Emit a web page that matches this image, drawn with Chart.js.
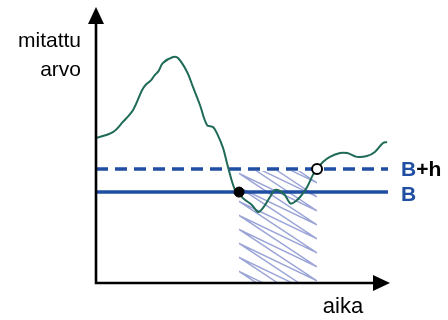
<!DOCTYPE html>
<html>
<head>
<meta charset="utf-8">
<script src="https://cdn.jsdelivr.net/npm/chart.js@4/dist/chart.umd.min.js"></script>
<style>
  html, body { margin: 0; padding: 0; background: #ffffff; }
  canvas { display: block; }
</style>
</head>
<body>
<canvas id="c" width="448" height="320"></canvas>
<script>
// Measured signal over time (arbitrary units)
const timePoints = [0, 5.8, 9.2, 12.7, 15.8, 17.2, 18.8, 20.0, 21.4, 22.9, 26.4, 28.1, 31.2, 33.2, 35.6, 38.0, 40.1, 41.4, 43.5, 45.2, 47.6, 49.0, 50.3, 53.4, 55.5, 57.2, 59.6, 61.3, 63.0, 64.7, 66.4, 67.5, 69.9, 72.3, 74.3, 75.7, 77.7, 80.1, 83.6, 86.0, 89.4, 92.8, 95.5, 98.3, 99.7];
const measuredValues = [53.1, 55.3, 59.0, 63.4, 70.7, 72.8, 74.2, 76.0, 77.6, 80.6, 82.8, 82.4, 77.3, 71.8, 65.2, 57.9, 57.1, 54.9, 49.5, 42.5, 34.1, 33.3, 31.1, 28.6, 26.0, 27.5, 31.5, 34.1, 33.7, 32.2, 29.3, 29.3, 31.5, 35.2, 39.6, 41.8, 44.3, 46.2, 47.6, 47.6, 46.2, 46.5, 48.0, 51.3, 51.6];

// Reference level B and tolerance h
const baselineB = 33.3;
const toleranceH = 8.5;
// Time where the signal drops below B, and where it rises above B+h
const dropTime = 49.0;
const recoverTime = 75.7;

const axisRange = [0, 100];
const labels = { y: ['mitattu', 'arvo'], x: 'aika', upper: ['B', '+h'], lower: 'B' };

const GREEN = '#1f6b58';
const BLUE = '#1f4ea3';
const HATCH = 'rgba(120,134,200,0.75)';
const FONT = '"Liberation Sans", Arial, sans-serif';

const curve = timePoints.map((t, i) => ({ x: t, y: measuredValues[i] }));
const upperLevel = baselineB + toleranceH;

// Zig-zag hatching over the interval where the signal stayed below B+h
const hatchPlugin = {
  id: 'hatch',
  beforeDatasetsDraw(chart) {
    const { ctx, scales: { x, y } } = chart;
    const L = x.getPixelForValue(dropTime);
    const R = x.getPixelForValue(recoverTime);
    const T = y.getPixelForValue(upperLevel);
    const Bt = y.getPixelForValue(axisRange[0]);
    const W = R - L;
    const slope = 0.66;
    const gap = 14;
    ctx.save();
    ctx.beginPath();
    ctx.rect(L, T + 2, W, Bt - T - 3);
    ctx.clip();
    ctx.strokeStyle = HATCH;
    ctx.lineWidth = 1.4;
    ctx.lineJoin = 'round';
    ctx.beginPath();
    let y0 = T - slope * W;
    ctx.moveTo(L, y0);
    while (y0 < Bt + gap) {
      ctx.lineTo(R, y0 + slope * W);
      y0 += gap;
      ctx.lineTo(L, y0);
    }
    ctx.stroke();
    ctx.restore();
  }
};

// Axes with arrow heads and all text labels
const decorPlugin = {
  id: 'decor',
  afterDraw(chart) {
    const { ctx, chartArea: a, scales: { y } } = chart;
    const ox = a.left, oy = a.bottom;
    const xTip = a.right + 2, yTip = a.top - 3;
    ctx.save();
    ctx.strokeStyle = '#000';
    ctx.fillStyle = '#000';
    ctx.lineWidth = 2.6;
    ctx.beginPath();
    ctx.moveTo(ox, oy + 1.3);
    ctx.lineTo(ox, yTip + 14);
    ctx.moveTo(ox - 1.3, oy);
    ctx.lineTo(xTip - 14, oy);
    ctx.stroke();
    // arrow heads
    ctx.beginPath();
    ctx.moveTo(ox, yTip);
    ctx.lineTo(ox - 8, yTip + 17);
    ctx.lineTo(ox + 8, yTip + 17);
    ctx.closePath();
    ctx.fill();
    ctx.beginPath();
    ctx.moveTo(xTip, oy);
    ctx.lineTo(xTip - 17, oy - 8);
    ctx.lineTo(xTip - 17, oy + 8);
    ctx.closePath();
    ctx.fill();

    // axis titles
    ctx.font = '21px ' + FONT;
    ctx.textBaseline = 'middle';
    ctx.textAlign = 'right';
    ctx.fillText(labels.y[0], 81, 41);
    ctx.fillText(labels.y[1], 81, 70);
    ctx.textAlign = 'center';
    ctx.font = '22px ' + FONT;
    ctx.fillText(labels.x, 343, 307);

    // level labels
    ctx.font = 'bold 21px ' + FONT;
    ctx.textAlign = 'left';
    const lx = a.right + 13;
    const yU = y.getPixelForValue(upperLevel) + 1;
    const yL = y.getPixelForValue(baselineB) + 3;
    ctx.fillStyle = BLUE;
    ctx.fillText(labels.upper[0], lx, yU);
    const bw = ctx.measureText(labels.upper[0]).width;
    ctx.fillStyle = '#000';
    ctx.fillText(labels.upper[1], lx + bw, yU);
    ctx.fillStyle = BLUE;
    ctx.fillText(labels.lower, lx, yL);
    ctx.restore();
  }
};

new Chart(document.getElementById('c'), {
  type: 'line',
  data: {
    datasets: [
      {
        data: curve,
        borderColor: GREEN,
        borderWidth: 2,
        pointRadius: 0,
        tension: 0.35,
        fill: false,
        order: 3
      },
      {
        data: [{ x: axisRange[0], y: upperLevel }, { x: axisRange[1], y: upperLevel }],
        borderColor: BLUE,
        borderWidth: 3.5,
        borderDash: [12, 7],
        pointRadius: 0,
        order: 4
      },
      {
        data: [{ x: axisRange[0], y: baselineB }, { x: axisRange[1], y: baselineB }],
        borderColor: BLUE,
        borderWidth: 3.5,
        pointRadius: 0,
        order: 4
      },
      {
        data: [{ x: dropTime, y: baselineB }],
        showLine: false,
        pointRadius: 5,
        pointBackgroundColor: '#000',
        pointBorderColor: '#000',
        pointBorderWidth: 1,
        order: 1
      },
      {
        data: [{ x: recoverTime, y: upperLevel }],
        showLine: false,
        pointRadius: 5,
        pointBackgroundColor: '#fff',
        pointBorderColor: '#000',
        pointBorderWidth: 2,
        order: 1
      }
    ]
  },
  options: {
    responsive: false,
    animation: false,
    devicePixelRatio: 1,
    layout: { padding: { left: 96, right: 60, top: 10, bottom: 37 } },
    scales: {
      x: { type: 'linear', min: axisRange[0], max: axisRange[1], display: false },
      y: { type: 'linear', min: axisRange[0], max: axisRange[1], display: false }
    },
    plugins: { legend: { display: false }, tooltip: { enabled: false } },
    elements: { point: { hoverRadius: 5 } }
  },
  plugins: [hatchPlugin, decorPlugin]
});
</script>
</body>
</html>
